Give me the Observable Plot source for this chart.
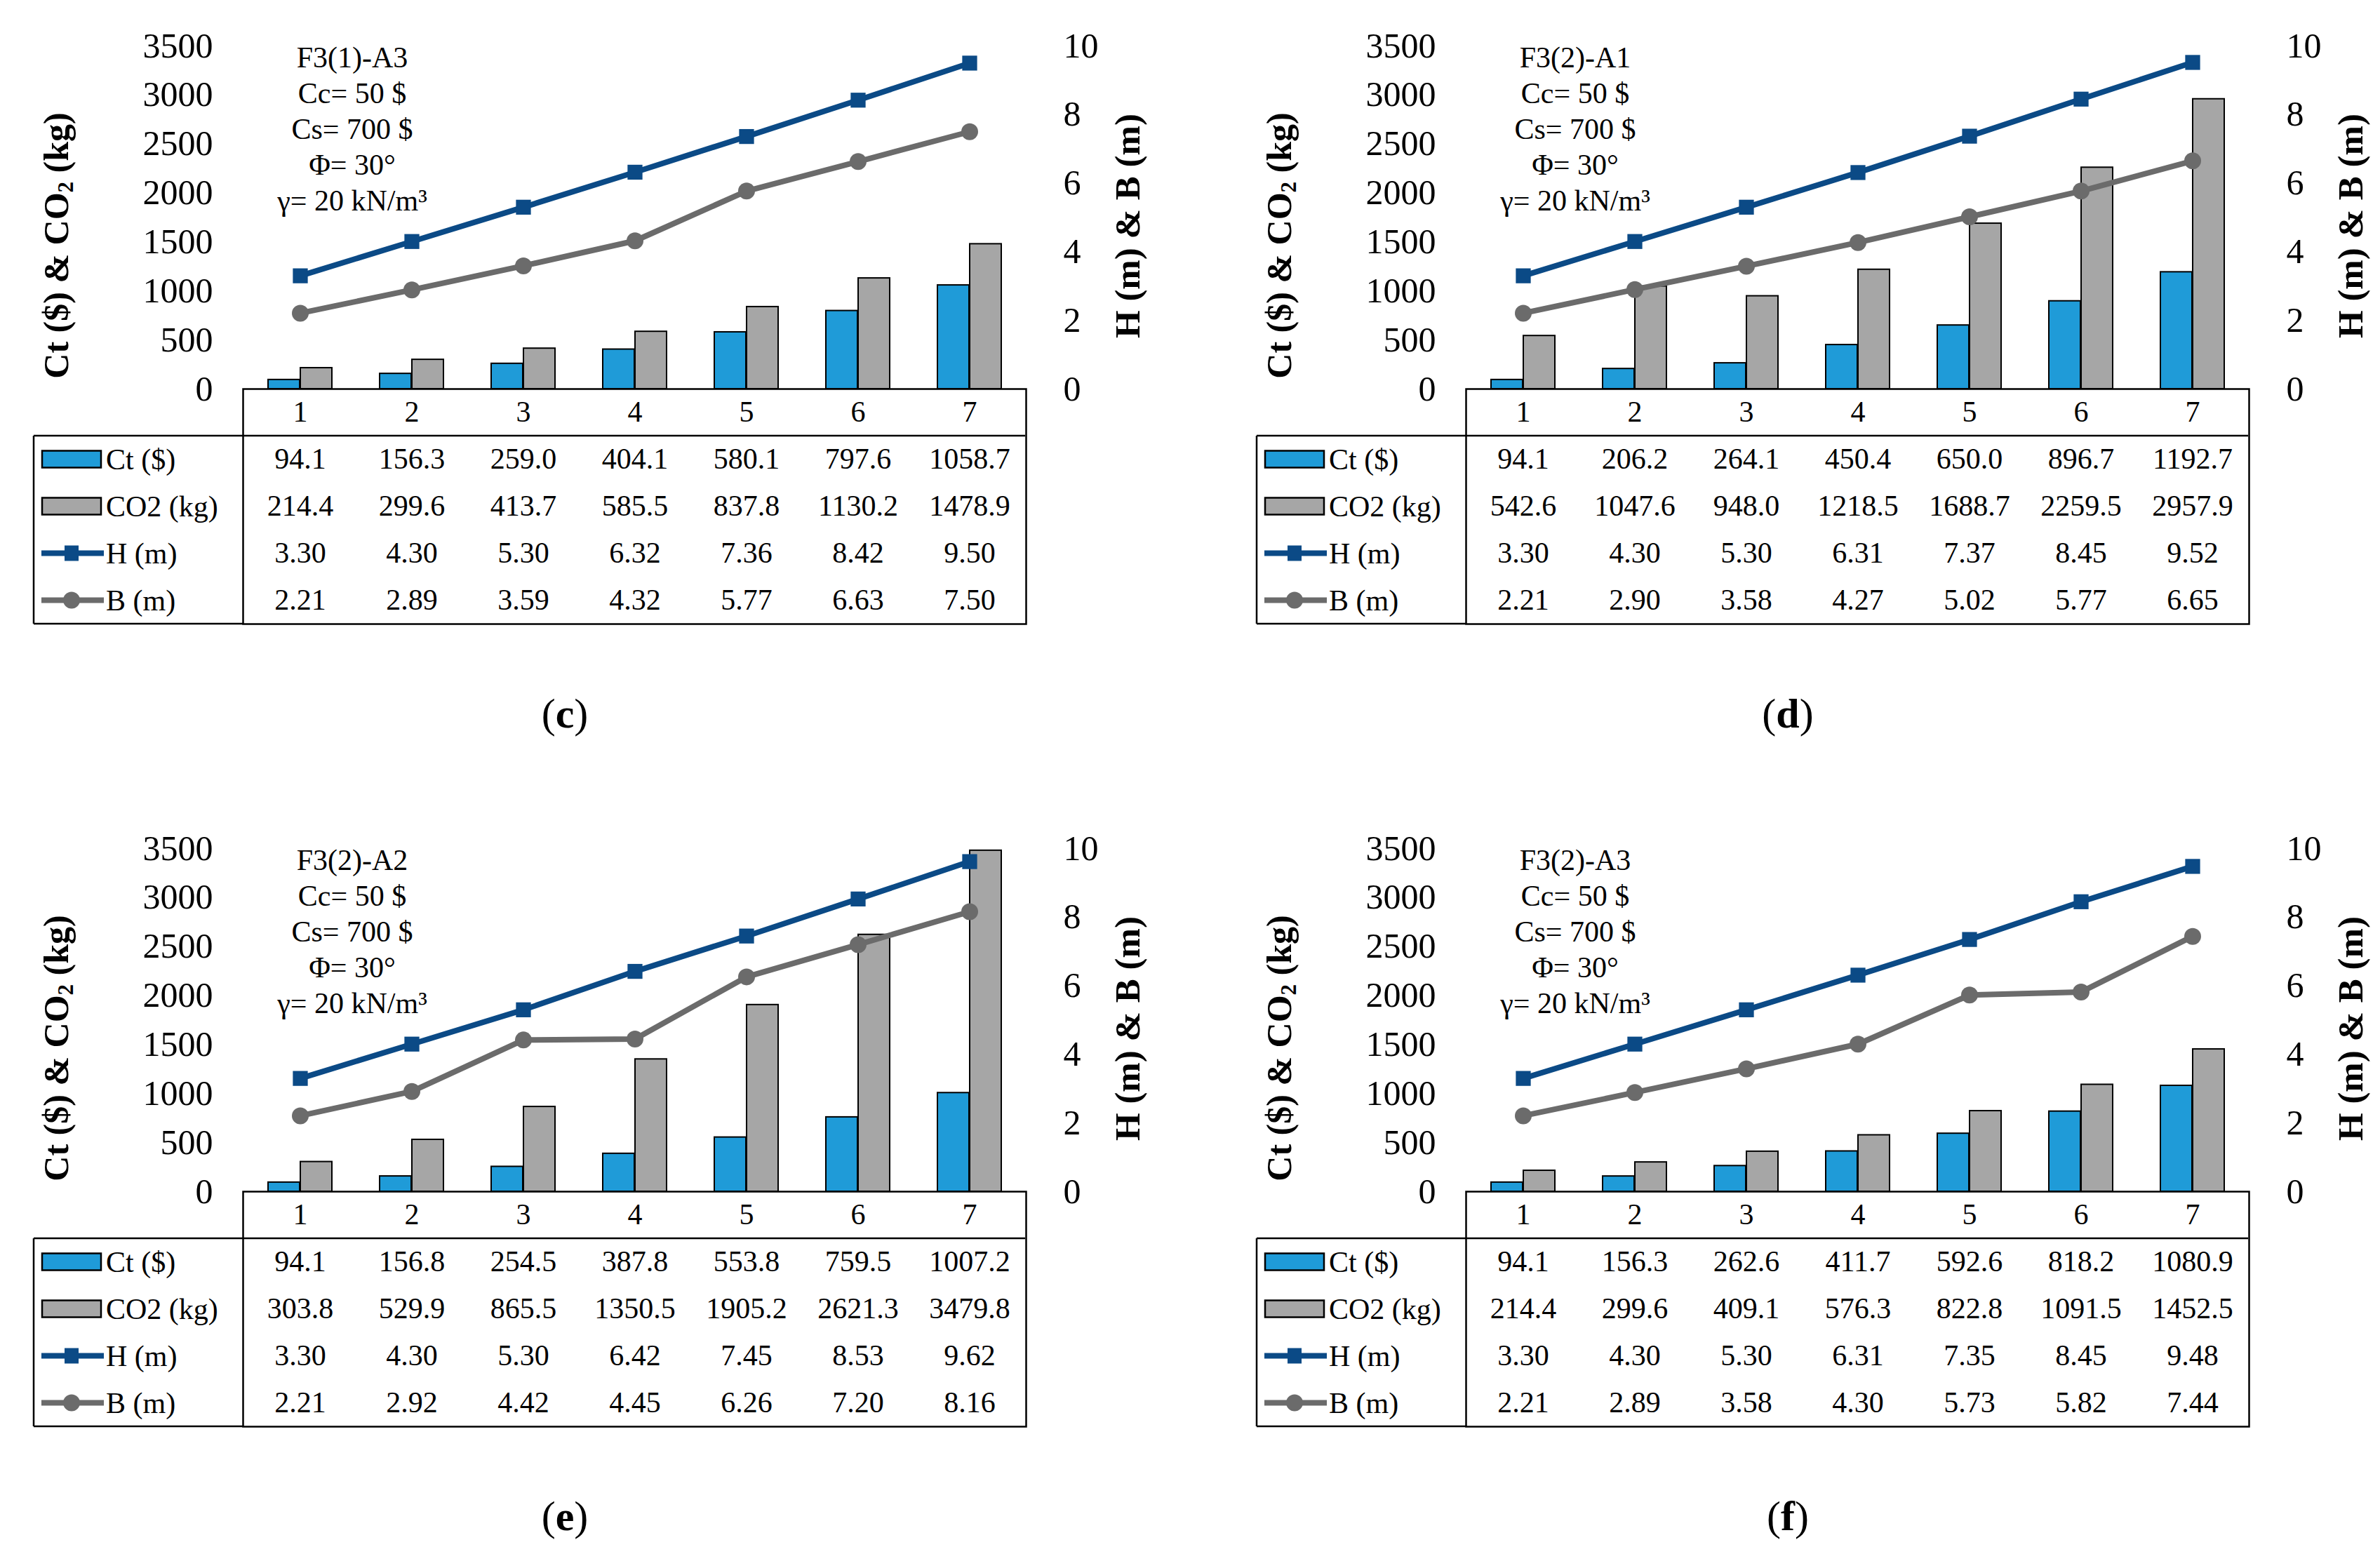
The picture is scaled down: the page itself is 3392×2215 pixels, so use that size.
<!DOCTYPE html>
<html>
<head>
<meta charset="utf-8">
<script src="https://cdn.jsdelivr.net/npm/d3@7"></script>
<script src="https://cdn.jsdelivr.net/npm/@observablehq/plot@0.6"></script>
<style>
  html, body { margin: 0; padding: 0; background: #fff; }
  #page { position: relative; width: 3392px; height: 2215px; background: #fff; font-family: "Liberation Serif", "Times New Roman", "DejaVu Serif", serif; color: #000; }
  .panel { position: absolute; width: 1649px; height: 1071px; }
  .panel svg { position: absolute; left: 0; overflow: visible; font-family: "Liberation Serif", "Times New Roman", "DejaVu Serif", serif; }
  .panel svg text { font-family: "Liberation Serif", "Times New Roman", "DejaVu Serif", serif; }
  .abs { position: absolute; white-space: nowrap; line-height: 1; }
</style>
</head>
<body>
<div id="page"></div>
<script>
// ---------- data ----------
const cats = [1, 2, 3, 4, 5, 6, 7];

const ct_c  = [94.1, 156.3, 259.0, 404.1, 580.1, 797.6, 1058.7];
const co2_c = [214.4, 299.6, 413.7, 585.5, 837.8, 1130.2, 1478.9];
const h_c   = [3.30, 4.30, 5.30, 6.32, 7.36, 8.42, 9.50];
const b_c   = [2.21, 2.89, 3.59, 4.32, 5.77, 6.63, 7.50];

const ct_d  = [94.1, 206.2, 264.1, 450.4, 650.0, 896.7, 1192.7];
const co2_d = [542.6, 1047.6, 948.0, 1218.5, 1688.7, 2259.5, 2957.9];
const h_d   = [3.30, 4.30, 5.30, 6.31, 7.37, 8.45, 9.52];
const b_d   = [2.21, 2.90, 3.58, 4.27, 5.02, 5.77, 6.65];

const ct_e  = [94.1, 156.8, 254.5, 387.8, 553.8, 759.5, 1007.2];
const co2_e = [303.8, 529.9, 865.5, 1350.5, 1905.2, 2621.3, 3479.8];
const h_e   = [3.30, 4.30, 5.30, 6.42, 7.45, 8.53, 9.62];
const b_e   = [2.21, 2.92, 4.42, 4.45, 6.26, 7.20, 8.16];

const ct_f  = [94.1, 156.3, 262.6, 411.7, 592.6, 818.2, 1080.9];
const co2_f = [214.4, 299.6, 409.1, 576.3, 822.8, 1091.5, 1452.5];
const h_f   = [3.30, 4.30, 5.30, 6.31, 7.35, 8.45, 9.48];
const b_f   = [2.21, 2.89, 3.58, 4.30, 5.73, 5.82, 7.44];

const panelIds    = ["F3(1)-A3", "F3(2)-A1", "F3(2)-A2", "F3(2)-A3"];
const panelLetter = ["c", "d", "e", "f"];
const paramLines  = ["Cc= 50 $", "Cs= 700 $", "Φ= 30°", "γ= 20 kN/m³"];
const leftTicks   = [0, 500, 1000, 1500, 2000, 2500, 3000, 3500];
const rightTicks  = [0, 2, 4, 6, 8, 10];
const rowNames    = ["Ct ($)", "CO2 (kg)", "H (m)", "B (m)"];

// ---------- styling ----------
const COL_CT = "#1f9bd8", COL_CO2 = "#a6a6a6", COL_H = "#0b4a86", COL_B = "#6b6b6b";
const LEFT_MAX = 3500, RIGHT_MAX = 10, K = LEFT_MAX / RIGHT_MAX;
const W = 1649, ML = 346, MR = 187, MT = 65, BASE = 554;
const FONT = "Liberation Serif";

const page = document.getElementById("page");

function panel(idx, ct, co2, h, b, dx, dy) {
  const div = document.createElement("div");
  div.className = "panel";
  div.style.left = dx + "px";
  div.style.top = dy + "px";
  page.appendChild(div);

  const rows = cats.map((k, j) => ({k, ct: ct[j], co2: co2[j], h: h[j] * K, b: b[j] * K}));

  const chart = Plot.plot({
    width: W, height: BASE,
    marginLeft: ML, marginRight: MR, marginTop: MT, marginBottom: 0,
    x: {type: "band", domain: cats, padding: 0, axis: null},
    y: {domain: [0, LEFT_MAX], axis: null},
    style: {fontFamily: FONT, fontSize: "50px", background: "transparent", color: "#000", overflow: "visible"},
    marks: [
      Plot.axisY({anchor: "left", ticks: leftTicks, tickSize: 0, tickPadding: 43, label: null,
        tickFormat: v => String(v), fontSize: 50, fontFamily: FONT}),
      Plot.axisY(rightTicks.map(v => v * K), {anchor: "right", tickSize: 0, tickPadding: 53,
        tickFormat: v => String(Math.round(v / K)), label: null, fontSize: 50, fontFamily: FONT, textAnchor: "start"}),
      Plot.barY(rows, {x: "k", y: "ct", fill: COL_CT, stroke: "#000", strokeWidth: 2, insetLeft: 34, insetRight: 80}),
      Plot.barY(rows, {x: "k", y: "co2", fill: COL_CO2, stroke: "#000", strokeWidth: 2, insetLeft: 80, insetRight: 34}),
      Plot.line(rows, {x: "k", y: "b", stroke: COL_B, strokeWidth: 8}),
      Plot.dot(rows, {x: "k", y: "b", r: 12, fill: COL_B, symbol: "circle"}),
      Plot.line(rows, {x: "k", y: "h", stroke: COL_H, strokeWidth: 8}),
      Plot.dot(rows, {x: "k", y: "h", r: 12, fill: COL_H, symbol: "square"})
    ]
  });
  chart.style.top = "0px";
  div.appendChild(chart);

  // ---- data table ----
  const rowKeys = ["cat", "ct", "co2", "h", "b"];
  const series = [ct, co2, h, b];
  const cells = cats.map(k => ({k, row: "cat", label: String(k)}));
  series.forEach((arr, s) => arr.forEach((v, j) => cells.push({
    k: cats[j], row: rowKeys[s + 1], label: s < 2 ? v.toFixed(1) : v.toFixed(2)
  })));

  const tbl = Plot.plot({
    width: W, height: 339,
    marginLeft: ML, marginRight: MR, marginTop: 2, marginBottom: 2,
    x: {type: "band", domain: cats, padding: 0, axis: null},
    y: {type: "band", domain: rowKeys, padding: 0, axis: null},
    style: {fontFamily: FONT, fontSize: "42px", background: "transparent", color: "#000", overflow: "visible"},
    marks: [
      Plot.frame({stroke: "#000", strokeWidth: 2.5}),
      Plot.text(cells, {x: "k", y: "row", text: "label", fontSize: 42, fontFamily: FONT, fill: "#000"})
    ]
  });
  tbl.style.top = (BASE - 2) + "px";
  div.appendChild(tbl);

  const ys = tbl.scale("y"), bw = ys.bandwidth;
  const xs = tbl.scale("x");
  const xRight = xs.apply(cats[cats.length - 1]) + xs.bandwidth;
  const xLeftTable = 48;
  const g = d3.select(tbl).append("g").attr("stroke", "#000").attr("stroke-width", 2.5);
  const yTop = ys.apply("ct"), yBot = ys.apply("b") + bw;
  g.append("line").attr("x1", xLeftTable).attr("x2", xRight).attr("y1", yTop).attr("y2", yTop);
  g.append("line").attr("x1", xLeftTable).attr("x2", xLeftTable).attr("y1", yTop).attr("y2", yBot);
  g.append("line").attr("x1", xLeftTable).attr("x2", ML).attr("y1", yBot).attr("y2", yBot);

  const leg = d3.select(tbl).append("g");
  const legCols = [COL_CT, COL_CO2, COL_H, COL_B];
  rowNames.forEach((name, s) => {
    const yc = ys.apply(rowKeys[s + 1]) + bw / 2;
    if (s < 2) {
      leg.append("rect").attr("x", 60).attr("y", yc - 12).attr("width", 84).attr("height", 24)
        .attr("fill", legCols[s]).attr("stroke", "#000").attr("stroke-width", 2.5);
    } else {
      leg.append("line").attr("x1", 59).attr("x2", 148).attr("y1", yc).attr("y2", yc)
        .attr("stroke", legCols[s]).attr("stroke-width", 8);
      if (s === 2) leg.append("rect").attr("x", 92).attr("y", yc - 11).attr("width", 20).attr("height", 22).attr("fill", legCols[s]);
      else leg.append("circle").attr("cx", 102).attr("cy", yc).attr("r", 12).attr("fill", legCols[s]);
    }
    leg.append("text").attr("x", 151).attr("y", yc).attr("dy", "0.35em")
      .attr("text-anchor", "start")
      .attr("font-size", 42).attr("font-family", FONT).attr("fill", "#000").text(name);
  });

  // ---- axis titles ----
  const lt = document.createElement("div");
  lt.className = "abs";
  lt.style.cssText += `left:82px;top:350px;transform:translate(-50%,-50%) rotate(-90deg);font-weight:bold;font-size:50px;`;
  lt.innerHTML = 'Ct ($) &amp; CO<sub style="font-size:0.62em;vertical-align:-0.2em">2</sub> (kg)';
  div.appendChild(lt);

  const rt = document.createElement("div");
  rt.className = "abs";
  rt.style.cssText += `left:1607px;top:322px;transform:translate(-50%,-50%) rotate(-90deg);font-weight:bold;font-size:51px;`;
  rt.textContent = "H (m) & B (m)";
  div.appendChild(rt);

  // ---- annotation ----
  const an = document.createElement("div");
  an.className = "abs";
  an.style.cssText += `left:502px;top:57px;transform:translateX(-50%);text-align:center;font-size:42px;line-height:51px;`;
  an.innerHTML = [panelIds[idx], ...paramLines].map(t => `<div>${t}</div>`).join("");
  div.appendChild(an);

  // ---- panel label ----
  const lb = document.createElement("div");
  lb.className = "abs";
  lb.style.cssText += `left:805px;top:1017px;transform:translate(-50%,-50%);font-size:60px;`;
  lb.innerHTML = `(<b>${panelLetter[idx]}</b>)`;
  div.appendChild(lb);
}

panel(0, ct_c, co2_c, h_c, b_c, 0, 0);
panel(1, ct_d, co2_d, h_d, b_d, 1743, 0);
panel(2, ct_e, co2_e, h_e, b_e, 0, 1144);
panel(3, ct_f, co2_f, h_f, b_f, 1743, 1144);
</script>
</body>
</html>
